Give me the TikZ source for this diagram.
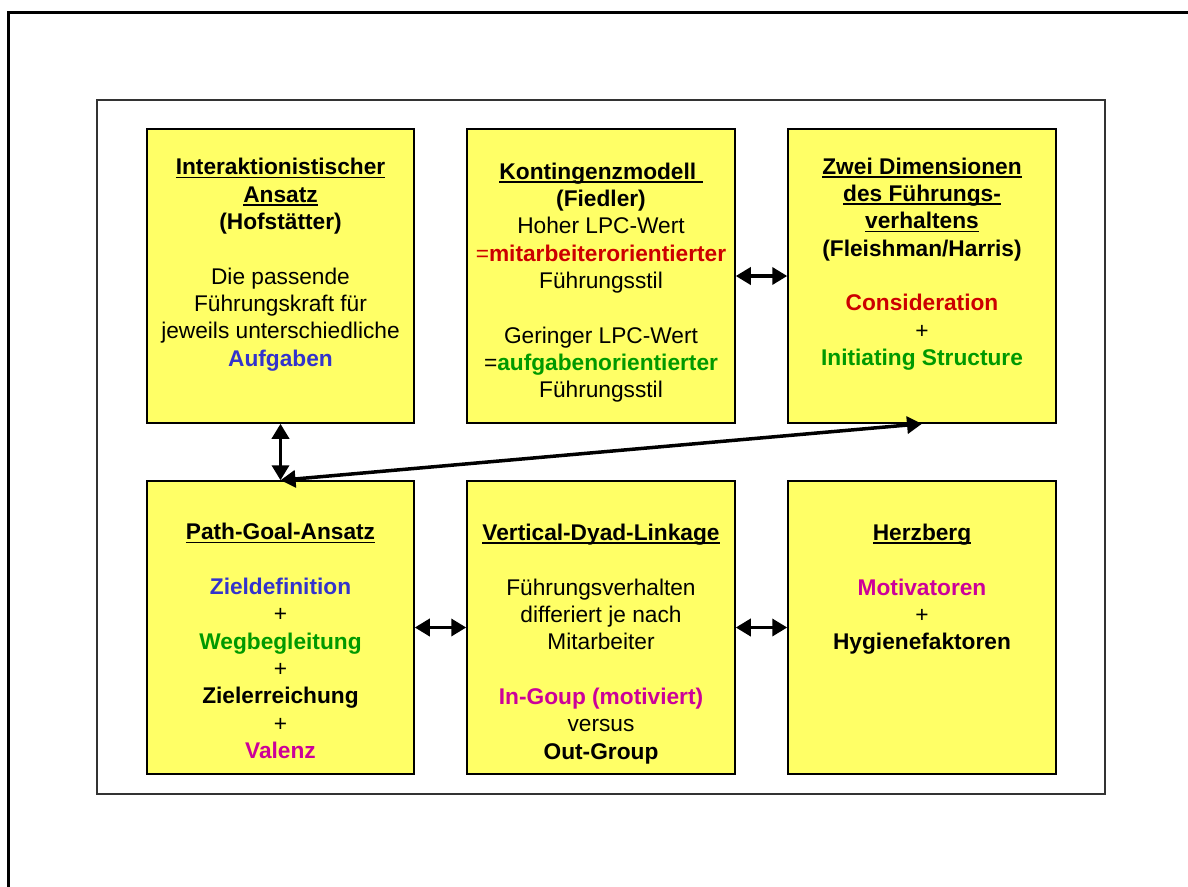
\documentclass[tikz,border=0pt]{standalone}
\usepackage{fontspec}
\setmainfont{Liberation Sans}
\usetikzlibrary{arrows.meta}
\definecolor{boxyellow}{HTML}{FFFF66}
\definecolor{tred}{HTML}{CC0000}
\definecolor{tgreen}{HTML}{009900}
\definecolor{tblue}{HTML}{3333CC}
\definecolor{tmag}{HTML}{CC0099}
\newcommand\uln[1]{\setbox0\hbox{#1}\rlap{\rule[-3.4pt]{\wd0}{1.8pt}}\box0}
\begin{document}
\begin{tikzpicture}[x=1pt,y=-1pt,
  box/.style={draw=black,line width=1.5pt,fill=boxyellow,inner sep=0},
  txt/.style={anchor=north,align=center,inner sep=0,
    font=\fontsize{22.7}{27.3}\selectfont,execute at begin node=\strut},
  dbl/.style={line width=3.5pt,
    {Triangle[length=15pt,width=17pt]}-{Triangle[length=15pt,width=17pt]}}]
\useasboundingbox (0,0) rectangle (1188,886);
\fill[white] (0,0) rectangle (1188,886);
% outer frame
\draw[line width=3pt] (8,892) -- (8,12) -- (1194,12);
% inner frame
\draw[line width=2pt,draw=black!80] (97,100) rectangle (1105,794);
% boxes
\node[box,minimum width=267pt,minimum height=294pt] (b1) at (280.5,276) {};
\node[box,minimum width=268pt,minimum height=294pt] (b2) at (601,276) {};
\node[box,minimum width=268pt,minimum height=294pt] (b3) at (922,276) {};
\node[box,minimum width=267pt,minimum height=293pt] (b4) at (280.5,627.5) {};
\node[box,minimum width=268pt,minimum height=293pt] (b5) at (601,627.5) {};
\node[box,minimum width=268pt,minimum height=293pt] (b6) at (922,627.5) {};
% texts
\node[txt] (t1) at (280.5,158.3) {\textbf{\uln{Interaktionistischer}}\\
  \textbf{\uln{Ansatz}}\\ \textbf{(Hofstätter)}\\[27.3pt]
  Die passende\\ Führungskraft für\\ jeweils unterschiedliche\\
  \textcolor{tblue}{\textbf{Aufgaben}}};
\node[txt] (t2) at (601,162.7) {\textbf{\uln{Kontingenzmodell\ }}\\
  \textbf{(Fiedler)}\\ Hoher LPC-Wert\\
  \textcolor{tred}{=\textbf{mitarbeiterorientierter}}\\ Führungsstil\\[27.3pt]
  Geringer LPC-Wert\\ =\textcolor{tgreen}{\textbf{aufgabenorientierter}}\\ Führungsstil};
\node[txt] (t3) at (922,157.7) {\textbf{\uln{Zwei Dimensionen}}\\
  \textbf{\uln{des Führungs-}}\\ \textbf{\uln{verhaltens}}\\
  \textbf{(Fleishman/Harris)}\\[27.3pt]
  \textcolor{tred}{\textbf{Consideration}}\\ +\\
  \textcolor{tgreen}{\textbf{Initiating Structure}}};
\node[txt] (t4) at (280.5,523.3) {\textbf{\uln{Path-Goal-Ansatz}}\\[27.3pt]
  \textcolor{tblue}{\textbf{Zieldefinition}}\\ +\\
  \textcolor{tgreen}{\textbf{Wegbegleitung}}\\ +\\
  \textbf{Zielerreichung}\\ +\\
  \textcolor{tmag}{\textbf{Valenz}}};
\node[txt] (t5) at (601,524) {\textbf{\uln{Vertical-Dyad-Linkage}}\\[27.3pt]
  Führungsverhalten\\ differiert je nach\\ Mitarbeiter\\[27.3pt]
  \textcolor{tmag}{\textbf{In-Goup (motiviert)}}\\ versus\\ \textbf{Out-Group}};
\node[txt] (t6) at (922,524) {\textbf{\uln{Herzberg}}\\[27.3pt]
  \textcolor{tmag}{\textbf{Motivatoren}}\\ +\\ \textbf{Hygienefaktoren}};
% connectors
\draw[dbl] (b2.east) -- (b3.west);
\draw[dbl] (b1.south) -- (b4.north);
\draw[dbl] (b4.north) -- (b3.south);
\draw[dbl] (b4.east) -- (b5.west);
\draw[dbl] (b5.east) -- (b6.west);
\end{tikzpicture}
\end{document}
